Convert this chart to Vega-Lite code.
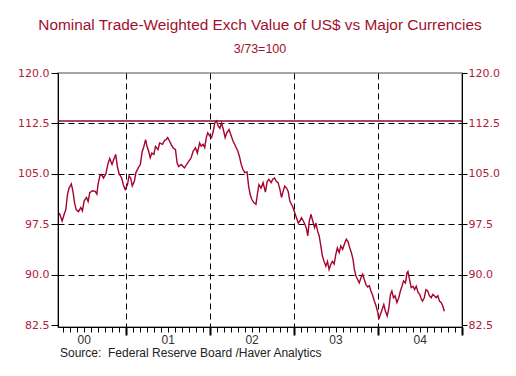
{
  "$schema": "https://vega.github.io/schema/vega-lite/v6.json",
  "width": 404,
  "height": 254,
  "autosize": "none",
  "padding": {"left": 58, "top": 73, "right": 54, "bottom": 49},
  "background": "white",
  "title": {
    "text": "Nominal Trade-Weighted Exch Value of US$ vs Major Currencies",
    "subtitle": "3/73=100",
    "anchor": "middle",
    "frame": "group",
    "fontSize": 15.4,
    "fontWeight": "normal",
    "color": "#A0102E",
    "subtitleFontSize": 12.5,
    "subtitleColor": "#A0102E",
    "subtitlePadding": 9,
    "offset": 12
  },
  "config": {
    "font": "Liberation Sans",
    "view": {"stroke": "#888", "strokeWidth": 1.5}
  },
  "data": {
    "values": [
      {"date": "2000-03-17", "value": 99.2},
      {"date": "2000-03-24", "value": 98.5},
      {"date": "2000-03-29", "value": 98.0},
      {"date": "2000-04-07", "value": 99.0},
      {"date": "2000-04-14", "value": 99.7},
      {"date": "2000-04-21", "value": 101.9},
      {"date": "2000-04-28", "value": 102.9},
      {"date": "2000-05-08", "value": 103.5},
      {"date": "2000-05-15", "value": 102.4},
      {"date": "2000-05-22", "value": 100.7},
      {"date": "2000-05-29", "value": 99.7},
      {"date": "2000-06-08", "value": 99.4},
      {"date": "2000-06-18", "value": 100.0},
      {"date": "2000-06-25", "value": 99.5},
      {"date": "2000-07-03", "value": 101.0},
      {"date": "2000-07-13", "value": 101.5},
      {"date": "2000-07-20", "value": 100.9},
      {"date": "2000-07-27", "value": 102.2},
      {"date": "2000-08-08", "value": 102.5},
      {"date": "2000-08-20", "value": 102.4},
      {"date": "2000-08-27", "value": 102.0},
      {"date": "2000-09-01", "value": 103.4},
      {"date": "2000-09-09", "value": 104.7},
      {"date": "2000-09-17", "value": 104.9},
      {"date": "2000-09-25", "value": 104.4},
      {"date": "2000-10-05", "value": 105.0},
      {"date": "2000-10-15", "value": 106.6},
      {"date": "2000-10-22", "value": 107.3},
      {"date": "2000-11-01", "value": 106.4},
      {"date": "2000-11-08", "value": 107.1},
      {"date": "2000-11-17", "value": 107.9},
      {"date": "2000-11-24", "value": 106.1},
      {"date": "2000-12-02", "value": 105.0},
      {"date": "2000-12-13", "value": 104.4},
      {"date": "2000-12-20", "value": 103.4},
      {"date": "2000-12-28", "value": 102.7},
      {"date": "2001-01-07", "value": 103.4},
      {"date": "2001-01-14", "value": 104.7},
      {"date": "2001-01-21", "value": 104.4},
      {"date": "2001-01-28", "value": 103.2},
      {"date": "2001-02-06", "value": 103.9},
      {"date": "2001-02-13", "value": 105.2},
      {"date": "2001-02-23", "value": 105.9},
      {"date": "2001-03-04", "value": 106.4},
      {"date": "2001-03-12", "value": 108.3},
      {"date": "2001-03-18", "value": 108.9},
      {"date": "2001-03-27", "value": 110.1},
      {"date": "2001-04-02", "value": 109.1},
      {"date": "2001-04-09", "value": 108.4},
      {"date": "2001-04-16", "value": 107.4},
      {"date": "2001-04-23", "value": 108.1},
      {"date": "2001-05-02", "value": 107.9},
      {"date": "2001-05-09", "value": 109.1},
      {"date": "2001-05-20", "value": 108.6},
      {"date": "2001-05-27", "value": 109.6},
      {"date": "2001-06-08", "value": 109.4},
      {"date": "2001-06-18", "value": 110.0},
      {"date": "2001-06-24", "value": 110.1},
      {"date": "2001-07-01", "value": 110.4},
      {"date": "2001-07-09", "value": 109.9},
      {"date": "2001-07-16", "value": 109.4},
      {"date": "2001-07-24", "value": 108.9},
      {"date": "2001-08-04", "value": 108.6},
      {"date": "2001-08-11", "value": 106.6},
      {"date": "2001-08-18", "value": 106.1},
      {"date": "2001-08-28", "value": 106.4},
      {"date": "2001-09-12", "value": 105.9},
      {"date": "2001-09-21", "value": 106.4},
      {"date": "2001-10-01", "value": 106.9},
      {"date": "2001-10-11", "value": 107.4},
      {"date": "2001-10-20", "value": 108.4},
      {"date": "2001-10-30", "value": 108.9},
      {"date": "2001-11-07", "value": 108.1},
      {"date": "2001-11-17", "value": 109.6},
      {"date": "2001-11-24", "value": 109.1},
      {"date": "2001-12-02", "value": 109.4},
      {"date": "2001-12-09", "value": 108.9},
      {"date": "2001-12-16", "value": 110.4},
      {"date": "2001-12-22", "value": 111.1},
      {"date": "2002-01-01", "value": 110.6},
      {"date": "2002-01-08", "value": 110.4},
      {"date": "2002-01-15", "value": 111.3},
      {"date": "2002-01-22", "value": 112.6},
      {"date": "2002-01-30", "value": 112.9},
      {"date": "2002-02-06", "value": 112.1},
      {"date": "2002-02-13", "value": 111.8},
      {"date": "2002-02-20", "value": 112.6},
      {"date": "2002-02-28", "value": 111.6},
      {"date": "2002-03-08", "value": 110.4},
      {"date": "2002-03-15", "value": 111.1},
      {"date": "2002-03-25", "value": 111.6},
      {"date": "2002-04-02", "value": 110.8},
      {"date": "2002-04-11", "value": 109.9},
      {"date": "2002-04-18", "value": 109.4},
      {"date": "2002-04-25", "value": 108.9},
      {"date": "2002-05-02", "value": 108.4},
      {"date": "2002-05-09", "value": 107.6},
      {"date": "2002-05-17", "value": 106.4},
      {"date": "2002-05-24", "value": 105.7},
      {"date": "2002-06-01", "value": 105.2},
      {"date": "2002-06-11", "value": 105.3},
      {"date": "2002-06-18", "value": 103.2},
      {"date": "2002-06-25", "value": 101.9},
      {"date": "2002-07-02", "value": 101.2},
      {"date": "2002-07-11", "value": 100.7},
      {"date": "2002-07-20", "value": 100.5},
      {"date": "2002-07-27", "value": 102.2},
      {"date": "2002-08-02", "value": 103.4},
      {"date": "2002-08-11", "value": 102.9},
      {"date": "2002-08-20", "value": 103.7},
      {"date": "2002-08-30", "value": 102.3},
      {"date": "2002-09-07", "value": 103.9},
      {"date": "2002-09-14", "value": 104.2},
      {"date": "2002-09-24", "value": 103.7},
      {"date": "2002-10-01", "value": 104.2},
      {"date": "2002-10-09", "value": 104.4},
      {"date": "2002-10-16", "value": 103.9},
      {"date": "2002-10-24", "value": 103.7},
      {"date": "2002-11-01", "value": 102.7},
      {"date": "2002-11-08", "value": 101.5},
      {"date": "2002-11-15", "value": 102.4},
      {"date": "2002-11-22", "value": 103.2},
      {"date": "2002-11-30", "value": 102.9},
      {"date": "2002-12-07", "value": 102.4},
      {"date": "2002-12-14", "value": 101.0},
      {"date": "2002-12-21", "value": 100.5},
      {"date": "2002-12-28", "value": 100.0},
      {"date": "2003-01-05", "value": 99.2},
      {"date": "2003-01-12", "value": 98.5},
      {"date": "2003-01-20", "value": 97.7},
      {"date": "2003-01-27", "value": 98.0},
      {"date": "2003-02-03", "value": 98.5},
      {"date": "2003-02-11", "value": 98.0},
      {"date": "2003-02-18", "value": 97.5},
      {"date": "2003-02-25", "value": 96.8},
      {"date": "2003-03-02", "value": 95.8},
      {"date": "2003-03-09", "value": 98.0},
      {"date": "2003-03-16", "value": 99.0},
      {"date": "2003-03-24", "value": 98.0},
      {"date": "2003-04-01", "value": 97.0},
      {"date": "2003-04-07", "value": 97.7},
      {"date": "2003-04-14", "value": 96.5},
      {"date": "2003-04-21", "value": 95.8},
      {"date": "2003-04-28", "value": 94.3},
      {"date": "2003-05-05", "value": 92.8},
      {"date": "2003-05-12", "value": 92.0},
      {"date": "2003-05-20", "value": 91.3},
      {"date": "2003-05-27", "value": 92.0},
      {"date": "2003-06-03", "value": 90.8},
      {"date": "2003-06-11", "value": 91.6},
      {"date": "2003-06-18", "value": 92.0},
      {"date": "2003-06-25", "value": 91.6},
      {"date": "2003-07-02", "value": 93.0},
      {"date": "2003-07-09", "value": 94.0},
      {"date": "2003-07-17", "value": 93.3},
      {"date": "2003-07-24", "value": 94.3},
      {"date": "2003-08-01", "value": 93.8},
      {"date": "2003-08-08", "value": 94.5},
      {"date": "2003-08-17", "value": 95.3},
      {"date": "2003-08-24", "value": 95.0},
      {"date": "2003-09-01", "value": 94.0},
      {"date": "2003-09-08", "value": 93.3},
      {"date": "2003-09-15", "value": 92.3},
      {"date": "2003-09-21", "value": 90.8},
      {"date": "2003-09-28", "value": 89.8},
      {"date": "2003-10-05", "value": 89.3},
      {"date": "2003-10-12", "value": 88.8},
      {"date": "2003-10-20", "value": 89.6},
      {"date": "2003-10-27", "value": 90.1},
      {"date": "2003-11-03", "value": 89.3},
      {"date": "2003-11-11", "value": 88.5},
      {"date": "2003-11-18", "value": 88.2},
      {"date": "2003-11-25", "value": 88.4},
      {"date": "2003-12-02", "value": 87.6},
      {"date": "2003-12-09", "value": 87.0},
      {"date": "2003-12-16", "value": 86.2},
      {"date": "2003-12-24", "value": 85.4},
      {"date": "2004-01-01", "value": 84.4},
      {"date": "2004-01-05", "value": 83.4},
      {"date": "2004-01-12", "value": 84.1},
      {"date": "2004-01-20", "value": 84.9},
      {"date": "2004-01-27", "value": 85.6},
      {"date": "2004-02-03", "value": 84.6},
      {"date": "2004-02-11", "value": 83.9},
      {"date": "2004-02-18", "value": 85.1},
      {"date": "2004-02-25", "value": 87.1},
      {"date": "2004-03-02", "value": 87.6},
      {"date": "2004-03-09", "value": 86.6},
      {"date": "2004-03-16", "value": 86.9},
      {"date": "2004-03-24", "value": 85.9},
      {"date": "2004-04-01", "value": 86.6},
      {"date": "2004-04-08", "value": 87.6},
      {"date": "2004-04-15", "value": 88.3},
      {"date": "2004-04-22", "value": 89.1},
      {"date": "2004-04-30", "value": 88.8},
      {"date": "2004-05-07", "value": 90.3},
      {"date": "2004-05-11", "value": 90.5},
      {"date": "2004-05-18", "value": 89.3},
      {"date": "2004-05-25", "value": 88.1},
      {"date": "2004-06-02", "value": 88.3},
      {"date": "2004-06-09", "value": 87.8},
      {"date": "2004-06-16", "value": 88.3},
      {"date": "2004-06-24", "value": 87.4},
      {"date": "2004-07-01", "value": 87.1},
      {"date": "2004-07-08", "value": 86.4},
      {"date": "2004-07-13", "value": 86.1},
      {"date": "2004-07-21", "value": 86.6},
      {"date": "2004-07-28", "value": 87.8},
      {"date": "2004-08-05", "value": 87.6},
      {"date": "2004-08-12", "value": 86.9},
      {"date": "2004-08-20", "value": 86.6},
      {"date": "2004-08-27", "value": 87.1},
      {"date": "2004-09-03", "value": 86.9},
      {"date": "2004-09-11", "value": 86.6},
      {"date": "2004-09-18", "value": 86.9},
      {"date": "2004-09-25", "value": 86.1},
      {"date": "2004-10-02", "value": 85.9},
      {"date": "2004-10-09", "value": 85.4},
      {"date": "2004-10-16", "value": 84.6}
    ]
  },
  "layer": [
    {
      "mark": {"type": "line", "color": "#A6032F", "strokeWidth": 1.4},
      "encoding": {
        "x": {
          "field": "date",
          "type": "temporal",
          "scale": {"domain": [{"year": 2000, "month": 3, "date": 11}, {"year": 2005, "month": 1, "date": 1}]},
          "axis": {
            "orient": "bottom",
            "values": [
              {"year": 2001, "month": 1, "date": 1},
              {"year": 2002, "month": 1, "date": 1},
              {"year": 2003, "month": 1, "date": 1},
              {"year": 2004, "month": 1, "date": 1},
              {"year": 2005, "month": 1, "date": 1}
            ],
            "grid": true,
            "gridColor": "#000",
            "gridDash": [6, 4],
            "gridWidth": 1,
            "ticks": true,
            "tickSize": 8,
            "tickWidth": 2,
            "tickColor": "#000",
            "labels": false,
            "domain": false,
            "title": null
          }
        },
        "y": {
          "field": "value",
          "type": "quantitative",
          "scale": {"domain": [82.25, 120], "nice": false, "zero": false},
          "axis": {
            "orient": "left",
            "values": [82.5, 90, 97.5, 105, 112.5, 120],
            "format": ".1f",
            "grid": false,
            "tickSize": 7,
            "tickColor": "#000",
            "labelFont": "DejaVu Sans",
            "labelFontSize": 11,
            "labelColor": "#B0203C",
            "labelPadding": 2,
            "domainColor": "#000",
            "title": null
          }
        }
      }
    },
    {
      "mark": {"type": "point", "opacity": 0},
      "encoding": {
        "x": {
          "field": "date",
          "type": "temporal",
          "axis": {
            "orient": "bottom",
            "tickCount": {"interval": "month", "step": 1},
            "labelExpr": "month(datum.value) == 6 ? timeFormat(datum.value, '%y') : ''",
            "labelOverlap": false,
            "labelFlush": false,
            "labelFontSize": 12,
            "labelColor": "#333",
            "labelPadding": 2,
            "tickSize": 5,
            "tickColor": "#000",
            "domainColor": "#000",
            "grid": false,
            "title": "Source:\u00a0 Federal Reserve Board /Haver Analytics",
            "titleX": 1.5,
            "titleY": 29,
            "titleAlign": "left",
            "titleAnchor": "start",
            "titleBaseline": "alphabetic",
            "titleFontSize": 12,
            "titleFontWeight": "normal",
            "titleColor": "#222"
          }
        },
        "y": {
          "field": "value",
          "type": "quantitative",
          "axis": {
            "orient": "left",
            "values": [90, 97.5, 105, 112.5],
            "grid": true,
            "gridColor": "#000",
            "gridDash": [6, 4],
            "labels": false,
            "ticks": false,
            "domain": false,
            "title": null
          }
        }
      }
    },
    {
      "data": {"values": [{"level": 112.85}]},
      "mark": {"type": "rule", "color": "#8B0A2A", "strokeWidth": 1.5},
      "encoding": {
        "y": {
          "field": "level",
          "type": "quantitative",
          "axis": {
            "orient": "right",
            "values": [82.5, 90, 97.5, 105, 112.5, 120],
            "format": ".1f",
            "grid": false,
            "tickSize": 5,
            "tickColor": "#000",
            "labelFont": "DejaVu Sans",
            "labelFontSize": 11,
            "labelColor": "#B0203C",
            "labelPadding": 1,
            "domainColor": "#000",
            "title": null
          }
        }
      }
    }
  ],
  "resolve": {"axis": {"x": "independent", "y": "independent"}}
}
